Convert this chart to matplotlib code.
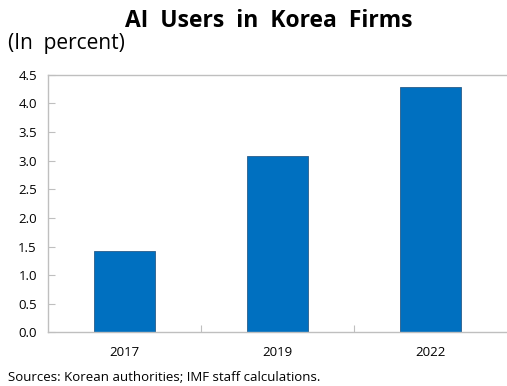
import numpy as np
import matplotlib.pyplot as plt

years = ["2017", "2019", "2022"]
ai_users = [1.42, 3.08, 4.28]
y_ticks = [0.0, 0.5, 1.0, 1.5, 2.0, 2.5, 3.0, 3.5, 4.0, 4.5]

plt.rcParams['font.family'] = ['Open Sans', 'DejaVu Sans']

fig = plt.figure(figsize=(5.07, 3.86), dpi=100)
ax = fig.add_axes([0.0947, 0.139, 0.9053, 0.667])

x = np.arange(len(years))
ax.bar(x, ai_users, width=0.4, color='#0070C0', edgecolor='#2a5d8a', linewidth=0.6)

ax.set_xlim(-0.5, len(years) - 0.5)
ax.set_ylim(0, 4.5)
ax.set_yticks(y_ticks)
ax.set_yticklabels([f"{v:.1f}" for v in y_ticks])

# category separators as ticks, labels at centres
ax.set_xticks(np.arange(len(years) - 1) + 0.5)
ax.set_xticklabels([])
ax.set_xticks(x, minor=True)
ax.set_xticklabels(years, minor=True)
ax.tick_params(axis='x', which='major', direction='in', length=5, color='#BFBFBF')
ax.tick_params(axis='x', which='minor', length=0, pad=10, labelsize=9.5)
ax.tick_params(axis='y', direction='in', length=5, color='#BFBFBF', pad=8, labelsize=9.5)

for side in ['left', 'top', 'bottom']:
    ax.spines[side].set_color('#BFBFBF')
    ax.spines[side].set_linewidth(1.0)
ax.spines['right'].set_visible(False)

fig.text(0.53, 0.945, "AI  Users  in  Korea  Firms", ha='center', va='center',
         fontsize=16.5, fontweight='bold')
fig.text(0.016, 0.888, "(In  percent)", ha='left', va='center', fontsize=15)
fig.text(0.016, 0.023, "Sources: Korean authorities; IMF staff calculations.",
         ha='left', va='center', fontsize=9.5)

fig.savefig("out.png", dpi=100)
